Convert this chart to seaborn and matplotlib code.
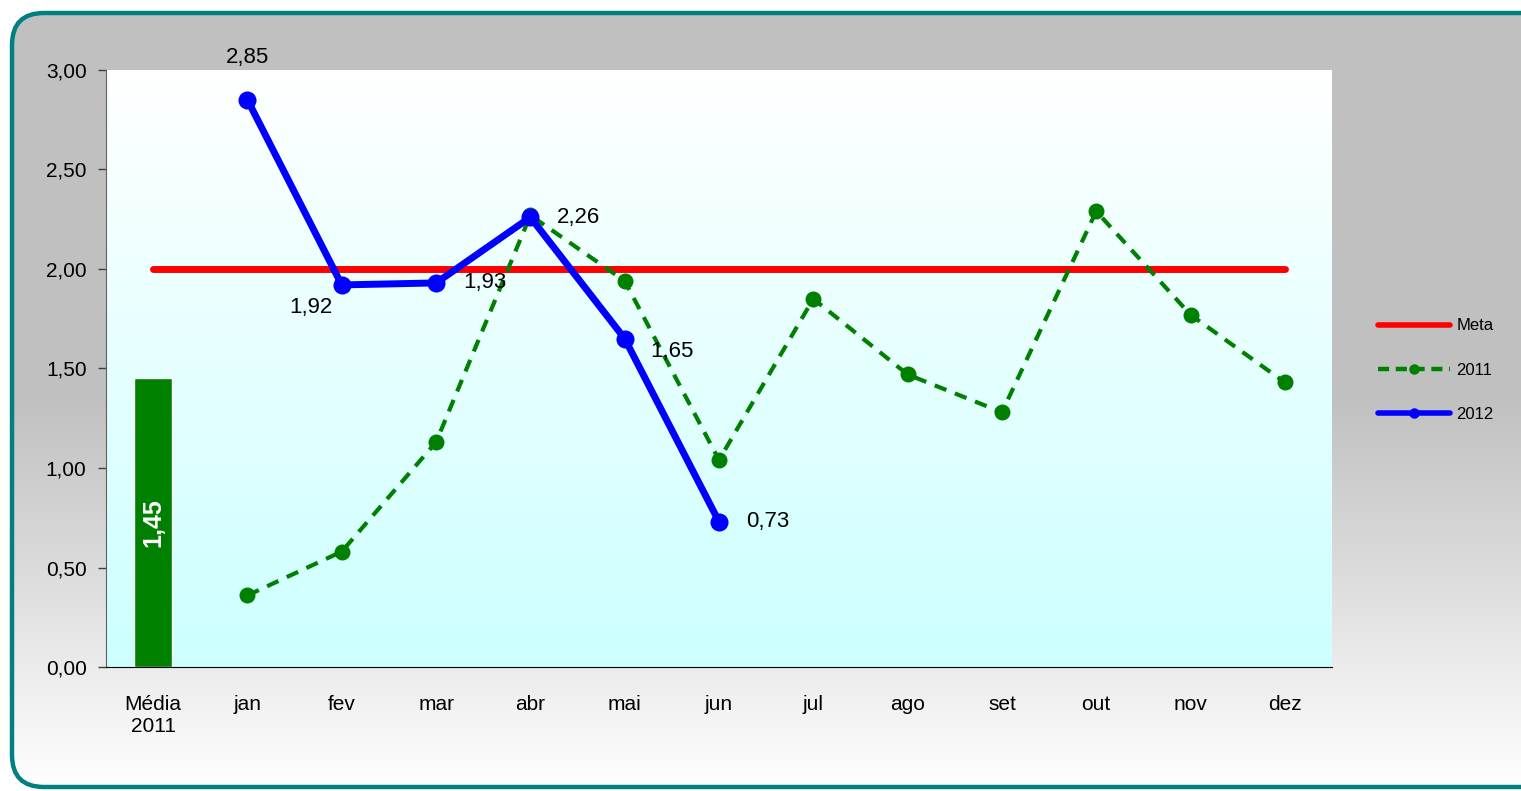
import numpy as np
import pandas as pd
import matplotlib
matplotlib.use("Agg")
import matplotlib.pyplot as plt
import seaborn as sns
from matplotlib.patches import FancyBboxPatch
from matplotlib.lines import Line2D
from matplotlib.colors import LinearSegmentedColormap

# ---- data ----
categories = ["Média\n2011", "jan", "fev", "mar", "abr", "mai", "jun",
              "jul", "ago", "set", "out", "nov", "dez"]
media_2011 = [1.45]
meta = [2.0] * 13
serie_2011 = [0.36, 0.58, 1.13, 2.27, 1.94, 1.04, 1.85, 1.47, 1.28, 2.29, 1.77, 1.43]
serie_2012 = [2.85, 1.92, 1.93, 2.26, 1.65, 0.73]
yticks = [0.0, 0.5, 1.0, 1.5, 2.0, 2.5, 3.0]

sns.set_style("white")
plt.rcParams['font.family'] = ['Liberation Sans', 'DejaVu Sans']
plt.rcParams['text.color'] = 'black'
plt.rcParams['xtick.color'] = 'black'
plt.rcParams['ytick.color'] = 'black'

W, H = 1521, 791
fig = plt.figure(figsize=(W / 100, H / 100), dpi=100)
fig.patch.set_facecolor("white")

# ---- background with rounded teal frame ----
bg = fig.add_axes([0, 0, 1, 1], zorder=-10)
bg.set_xlim(0, W)
bg.set_ylim(H, 0)
bg.axis("off")
grad = np.linspace(0, 1, 256).reshape(-1, 1)
cmap_bg = LinearSegmentedColormap.from_list("bg", ["#C0C0C0", "#C0C0C0", "#FFFFFF"])
frame = FancyBboxPatch((12, 13), 1560, 774, boxstyle="round,pad=0,rounding_size=32",
                       transform=bg.transData, facecolor="none", edgecolor="none")
bg.add_patch(frame)
im = bg.imshow(grad, cmap=cmap_bg, aspect="auto", extent=[0, W, H, 0])
im.set_clip_path(frame)
frame2 = FancyBboxPatch((12, 13), 1560, 774, boxstyle="round,pad=0,rounding_size=32",
                        transform=bg.transData, facecolor="none", edgecolor="#008080",
                        linewidth=3.2)
bg.add_patch(frame2)

# ---- main axes ----
ax = fig.add_axes([106 / W, 1 - 667 / H, (1332 - 106) / W, (667 - 70) / H])
ax.set_xlim(-0.5, 12.5)
ax.set_ylim(0, 3)
cmap_pa = LinearSegmentedColormap.from_list("pa", ["#FFFFFF", "#CCFFFF"])
ax.imshow(grad, cmap=cmap_pa, aspect="auto", extent=[-0.5, 12.5, 0, 3], zorder=0)

x_all = np.arange(len(categories))
# bar
ax.bar([0], media_2011, width=0.4, color="#008000", zorder=2)
ax.text(0, media_2011[0] / 2, f"{media_2011[0]:.2f}".replace(".", ","), rotation=90,
        color="white", fontweight="bold", fontsize=18, ha="center", va="center", zorder=3)

df_meta = pd.DataFrame({"x": x_all, "y": meta})
df11 = pd.DataFrame({"x": x_all[1:1 + len(serie_2011)], "y": serie_2011})
df12 = pd.DataFrame({"x": x_all[1:1 + len(serie_2012)], "y": serie_2012})

sns.lineplot(data=df_meta, x="x", y="y", ax=ax, color="#FF0000", linewidth=5,
             zorder=3, solid_capstyle="round", legend=False)
sns.lineplot(data=df11, x="x", y="y", ax=ax, color="#008000", linewidth=3,
             linestyle=(0, (3, 2.2)), marker="o", markersize=11.5, markeredgewidth=0,
             zorder=4, legend=False)
sns.lineplot(data=df12, x="x", y="y", ax=ax, color="#0000FF", linewidth=5,
             marker="o", markersize=13, markeredgewidth=0, zorder=5, legend=False)

# data labels for 2012 (pixel offsets)
offsets = [(0, 42), (-31, -23), (49, 0), (48, 0), (47, -13), (49, 0)]
for xi, yi, (dx, dy) in zip(df12["x"], df12["y"], offsets):
    ax.annotate(f"{yi:.2f}".replace(".", ","), (xi, yi), xytext=(dx * 0.72, dy * 0.72),
                textcoords="offset points", ha="center", va="center", fontsize=16,
                color="black", zorder=6, annotation_clip=False)

ax.set_xlabel("")
ax.set_ylabel("")
ax.set_xticks(x_all)
ax.set_xticklabels(categories, fontsize=15, color="black")
ax.set_xticks(np.arange(-0.5, 12.6, 1), minor=True)
ax.tick_params(axis="x", which="major", length=0, pad=20, labelcolor="black")
ax.tick_params(axis="x", which="minor", length=7, width=1, color="#404040", direction="out")
ax.set_yticks(yticks)
ax.set_yticklabels([f"{v:.2f}".replace(".", ",") for v in yticks], fontsize=15, color="black")
ax.tick_params(axis="y", length=6, width=1, color="#404040", direction="out", pad=8,
               left=True, labelcolor="black")
for s in ["top", "right"]:
    ax.spines[s].set_visible(False)
ax.spines["left"].set_color("#606060")
ax.spines["bottom"].set_color("black")
ax.spines["left"].set_zorder(7)
ax.spines["bottom"].set_zorder(7)

# legend
handles = [
    Line2D([], [], color="#FF0000", linewidth=4),
    Line2D([], [], color="#008000", linewidth=3.2, linestyle=(0, (2.5, 1.5)), marker="o",
           markersize=6.5),
    Line2D([], [], color="#0000FF", linewidth=4, marker="o", markersize=6.5),
]
leg = fig.legend(handles, ["Meta", "2011", "2012"], loc="center left",
                 bbox_to_anchor=(1378 / W, 1 - 370 / H), frameon=False, fontsize=12,
                 handlelength=4.3, handletextpad=0.4, labelspacing=1.75, borderpad=0,
                 borderaxespad=0, numpoints=1)
for t in leg.get_texts():
    t.set_color("black")

fig.savefig("out.png", dpi=100)
